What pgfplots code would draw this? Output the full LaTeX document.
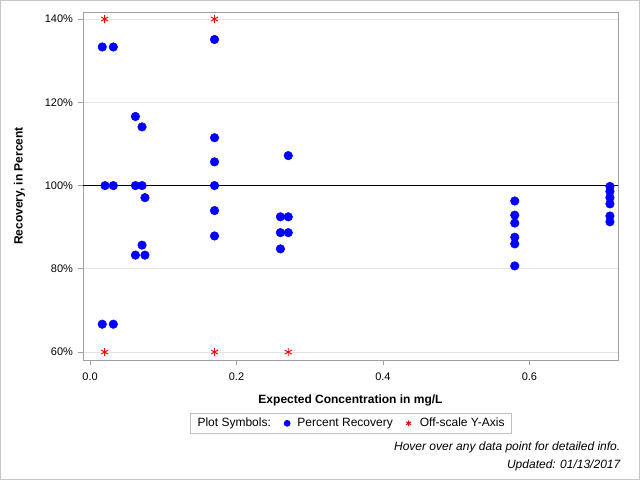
\documentclass[border=0pt]{standalone}
\usepackage{pgfplots}
\pgfplotsset{compat=1.18}
\usepackage{fontspec}
\setmainfont{Liberation Sans}
\definecolor{axgray}{HTML}{A0A0A0}
\definecolor{grdgray}{HTML}{E4E4E4}
\definecolor{ptblue}{HTML}{0000FF}
\definecolor{ptred}{HTML}{FF0000}
\begin{document}
\begin{tikzpicture}
\path[use as bounding box] (0,0) rectangle (480pt,360pt);
\draw[draw=gray!45,line width=0.75pt] (0.375pt,0.375pt) rectangle (479.625pt,359.625pt);
\begin{axis}[
  at={(62.25pt,90pt)}, anchor=south west,
  scale only axis, width=401.25pt, height=261pt,
  xmin=-0.0096, xmax=0.721, ymin=58.1, ymax=141.7,
  xtick={0,0.2,0.4,0.6}, xticklabels={0.0,0.2,0.4,0.6},
  ytick={60,80,100,120,140}, yticklabels={60\%,80\%,100\%,120\%,140\%},
  axis line style={axgray},
  tick style={axgray, line width=0.6pt},
  tick align=outside, major tick length=4pt,
  xtick pos=bottom, ytick pos=left,
  ymajorgrids, grid style={grdgray, line width=0.6pt},
  ticklabel style={font=\fontsize{8.25pt}{10pt}\selectfont, text=black},
  xticklabel style={yshift=-2pt},
  xlabel={\textbf{Expected Concentration in mg/L}},
  ylabel={\textbf{Recovery, in Percent}},
  label style={font=\fontsize{9pt}{11pt}\selectfont},
  xlabel style={yshift=-4pt},
  ylabel style={yshift=8pt},
  legend style={at={(0.501,-0.152)}, anchor=north, draw=gray!50, line width=0.6pt,
    font=\fontsize{9pt}{10pt}\selectfont, inner sep=1.5pt, inner xsep=3pt,
    /tikz/every even column/.append style={column sep=8pt}},
  legend image post style={mark size=2.2pt},
  legend columns=3,
  legend cell align=left,
]
\addlegendimage{empty legend}
\addlegendentry{Plot Symbols:\hspace{12pt}}
\addplot[black, line width=0.75pt, forget plot] coordinates {(-0.1,100) (0.8,100)};
\addplot[only marks, mark=*, mark size=3.2pt, color=ptblue] coordinates {
(0.0167,133.3) (0.0318,133.3) (0.0205,100) (0.0318,100) (0.0167,66.7) (0.0318,66.7)
(0.062,116.6) (0.071,114.1) (0.062,100) (0.071,100) (0.075,97.1) (0.071,85.7) (0.062,83.3) (0.075,83.3)
(0.17,135.1) (0.17,111.5) (0.17,105.7) (0.17,100) (0.17,94.0) (0.17,87.9)
(0.2707,107.2) (0.26,92.5) (0.2707,92.5) (0.26,88.7) (0.2707,88.7) (0.26,84.8)
(0.58,96.3) (0.58,92.9) (0.58,91.0) (0.58,87.6) (0.58,86.0) (0.58,80.7)
(0.71,99.8) (0.71,98.6) (0.71,97.1) (0.71,95.6) (0.71,92.7) (0.71,91.3)
};
\addlegendentry{\hspace{3.5pt}Percent Recovery}
\addplot[only marks, mark=asterisk, mark size=3pt, color=ptred, line width=0.7pt] coordinates {
(0.02,140) (0.17,140) (0.02,60) (0.17,60) (0.2707,60)
};
\addlegendentry{\hspace{4.5pt}Off-scale Y-Axis\hspace{2pt}}
\end{axis}
\node[anchor=base east, font=\fontsize{9pt}{11pt}\selectfont\itshape] at (468.75pt,22.5pt) {Hover over any data point for detailed info.};
\node[anchor=base east, font=\fontsize{9pt}{11pt}\selectfont\itshape] at (468.75pt,9pt) {Updated: 01/13/2017};
\end{tikzpicture}
\end{document}
